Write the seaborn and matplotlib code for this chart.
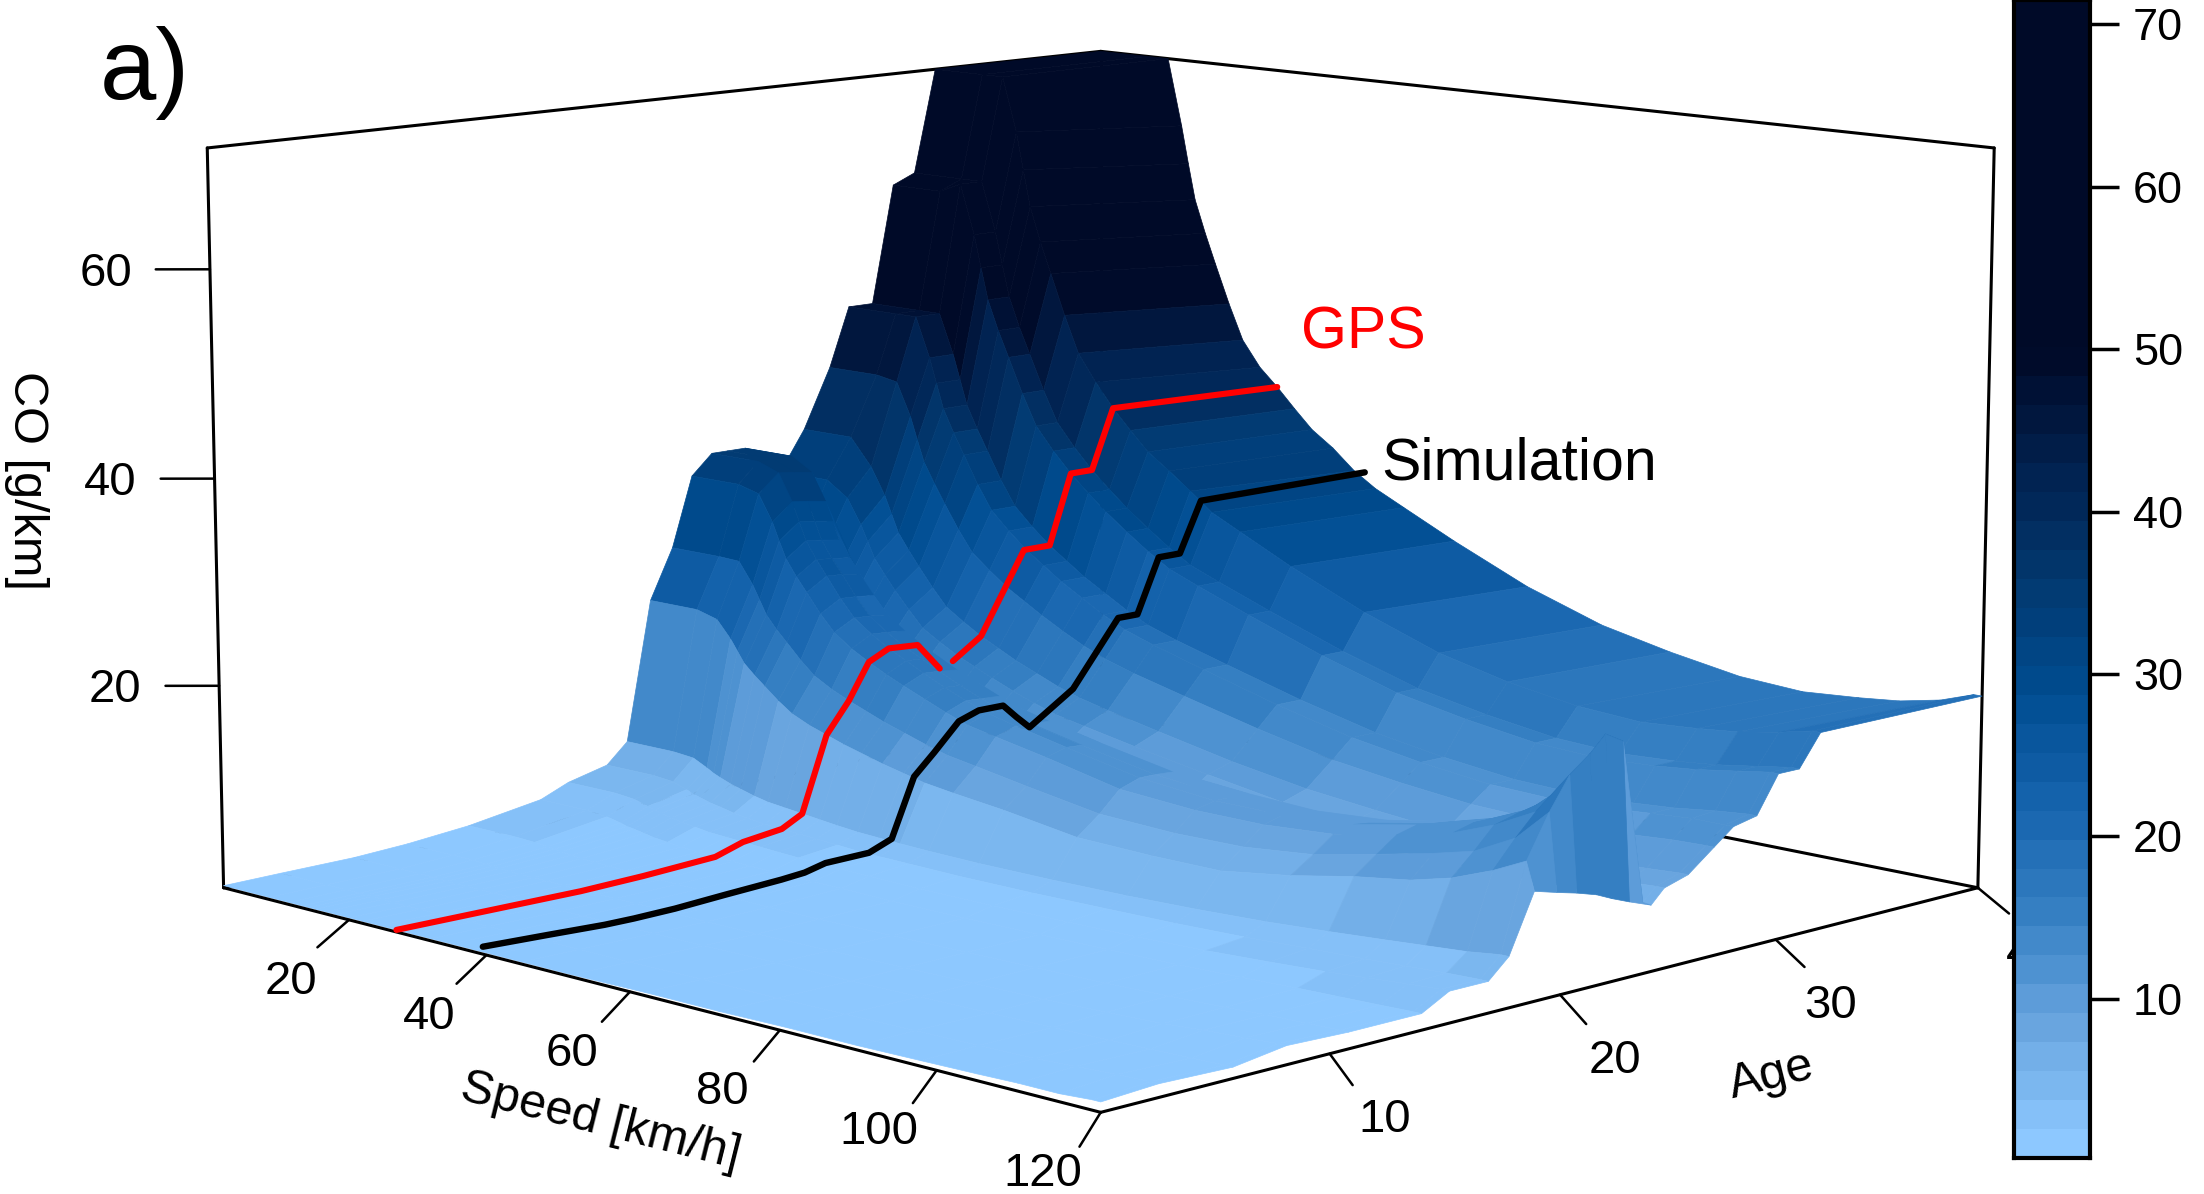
import numpy as np
import matplotlib
matplotlib.use("Agg")
import matplotlib.pyplot as plt
from matplotlib.transforms import offset_copy
import seaborn as sns

sns.set_theme(style="white")
plt.rcParams['font.family'] = ['Liberation Sans', 'DejaVu Sans']
plt.rcParams['text.color'] = 'black'

speeds = [1, 8, 11, 13, 14, 15, 16.5, 18, 20, 22, 24.5, 27, 29.5, 32, 35, 38, 41, 45, 52, 62, 72, 81, 90, 98, 105, 110, 115, 119, 120]
ages = [0.7, 3, 6, 8.2, 10.8, 13.9, 15.1, 16.8, 17.7, 18.8, 19.8, 20.7, 21.6, 22.3, 23.1, 24.1, 24.7, 25.8, 27, 27.9, 29, 30, 31, 32, 40]
co_grid = [
 [.5,.5,.5,.5,.5,.5,.5,.5,.5,.5,.5,.5,.5,.5,.5,.5,.5,.5,.5,.6,.6,.7,.7,.8,.9,1,1,1.2,1.2],
 [.6,.6,.6,.6,.6,.6,.55,.5,.5,.5,.5,.5,.5,.5,.5,.5,.5,.5,.5,.6,.6,.7,.8,.9,1,1.2,1.4,1.5,1.5],
 [.7,.7,.7,.7,.7,.6,.6,.6,.6,.6,.6,.55,.5,.5,.5,.5,.5,.5,.5,.6,.6,.7,.8,.9,1,1.1,1.2,1.3,1.3],
 [1,1,1,.9,.85,.8,.75,.7,.7,.7,.65,.6,.6,.6,.6,.6,.55,.5,.5,.6,.7,.8,.9,1.1,1.3,1.6,1.8,2,2],
 [1.6,1.6,1.5,1.4,1.3,1.2,1.1,1,.95,.9,.85,.8,.75,.7,.7,.7,.65,.6,.6,.7,.8,.9,1,1.2,1.4,1.6,1.7,1.8,1.8],
 [2.8,2.8,2.6,2.3,2.1,2,1.8,1.6,1.45,1.3,1.2,1.1,1.05,1,.95,.9,.9,.9,.8,.8,.9,1,1.1,1.3,1.5,1.6,1.7,1.8,1.8],
 [4,4,3.8,3.4,3.2,3,2.8,2.6,2.4,2.2,2.1,2,1.9,1.8,1.7,1.6,1.55,1.5,1.4,1.4,1.5,1.6,1.8,2.1,2.4,2.7,3,3.2,3.2],
 [5,5,4.8,4.3,4,3.8,3.5,3.3,3,2.8,2.6,2.5,2.4,2.3,2.15,2,1.95,1.9,1.8,1.8,1.9,2,2.2,2.5,2.7,2.9,3.1,3.2,3.2],
 [7,7,6.8,6.1,5.7,5.4,5,4.7,4.3,4,3.8,3.6,3.4,3.2,3,2.9,2.8,2.7,2.6,2.6,2.7,2.9,3.2,3.6,4,4.3,4.6,5,5],
 [21,21,20.4,18.7,17.6,16.5,15.5,14.6,13.4,12.4,11.6,11,10.4,9.9,9.3,8.8,8.3,7.9,7.3,6.2,6,6,7,8.2,9,10,11.5,13,10.4],
 [26,26,25.9,23.8,22.4,21,19.7,18.6,17.1,15.8,14.8,14,13.3,12.6,11.9,11.2,10.6,10.1,9.2,8,7.7,7.8,8.5,9.8,11,12,14,17,9.8],
 [33,33,32.4,29.8,28,26.3,24.7,23.3,21.4,19.8,18.5,17.5,16.6,15.8,14.9,14,13.2,12.6,11.6,10,9.5,9.5,10,11.2,12.5,14,16,20,9.3],
 [35,35,34.2,31.5,29.6,27.8,26.1,24.6,22.6,20.9,19.6,18.5,17.6,16.7,15.7,14.8,14,13.3,12.2,10.7,10,10,10.5,11.7,13,14.5,17,21.5,8.7],
 [35,35,34,31.3,29.4,27.6,25.9,24.5,22.5,20.8,19.5,18.4,17.5,16.6,15.6,14.7,13.9,13.2,12.1,10.7,10,9.8,10.3,11.5,13,14.7,18,23,8],
 [35,35,33.7,31,29.1,27.3,25.7,24.2,22.3,20.6,19.3,18.2,17.3,16.4,15.5,14.6,13.8,13.1,12,10.6,10,9.7,10.2,11.3,12.8,14.5,17.5,22,7.3],
 [29,29,27.8,25.5,24,22.5,21.2,20,18.4,17,15.9,15,14.2,13.5,12.7,12,11.4,10.8,9.9,8.7,7.7,7.1,6.6,6.5,6.5,6.6,6.6,6.6,6.5],
 [32,32,30.5,28,26.4,24.8,23.3,21.9,20.2,18.6,17.5,16.5,15.7,14.9,14,13.2,12.5,11.9,10.9,9.6,8.4,7.8,7.3,7.1,7.3,7.4,7.6,7.8,7.8],
 [36,36,33.3,30.6,28.8,27,25.4,23.9,22,20.3,19.1,18,17.1,16.2,15.3,14.4,13.7,13,11.9,10.4,9.2,8.5,7.9,7.7,7.9,8.1,8.3,8.5,8.5],
 [42,42,41.6,38.3,36,33.8,31.8,29.9,27.5,25.4,23.9,22.5,21.4,20.3,19.1,18,17.1,16.2,14.9,13.1,11.5,10.6,9.9,9.7,9.9,10.1,10.4,10.5,10.5],
 [48,48,48,44,41.5,39,36.7,34.6,31.8,29.4,27.6,26,24.7,23.4,22.1,20.8,19.7,18.7,17.2,15.1,13.3,12.2,11.4,11.2,11.4,11.7,12,12,12],
 [48,48,48,44,41.5,39,36.7,34.6,31.8,29.4,27.6,26,24.7,23.4,22.1,20.8,19.7,18.7,17.2,15.1,13.3,12.2,11.4,11.2,11.4,11.7,12.2,12.5,12.5],
 [60,60,61,56,52.7,49.5,46.5,43.9,40.4,37.3,35,33,31.3,29.7,28,26.4,25,23.8,21.8,19.1,16.8,15.5,14.5,14.2,14.5,14.9,15.5,16,16],
 [61,61,61,56,52.7,49.5,46.5,43.9,40.4,37.3,35,33,31.3,29.7,28,26.4,25,23.8,21.8,19.1,16.8,15.5,14.5,14.2,14.5,14.9,15.5,16,16],
 [71.5,71.5,71.5,66,62.2,58.5,55,51.9,47.8,44.1,41.4,39,37,35.1,33.5,31.8,30,28.5,25.9,22.6,19.9,18.3,17.2,16.8,17.2,17.6,18.3,19,19],
 [71.5,71.5,71.5,64.6,60.7,57,53.6,50.5,46.5,42.9,40.3,38.5,36.5,34.6,33,31,29.5,28,25.4,22,19.4,17.9,16.7,16.3,16.7,17.1,17.9,19,19],
]

gps_speed = 27
gps_age = [0.7, 5.5, 8.2, 10.8, 13.9, 15.1, 16.8, 17.7, 18.8, 19.8, 20.7, 21.6, 22.9, 23.9, np.nan, 24.5, 25.8, 27.8, 29, 30, 31, 32, 40]
gps_co = [.5, .5, .5, .7, 1.1, 2, 2.5, 3.6, 11, 14, 17.5, 18.5, 18.3, 15.5, np.nan, 16, 18, 26, 26, 33, 33, 39, 38.5]
sim_speed = 39.5
sim_age = [0.7, 3.3, 5.6, 6.8, 8.5, 10.6, 13, 14, 14.9, 16.8, 17.8, 18.8, 19.7, 20.8, 21.7, 22.8, 23.4, 24, 26, 28.1, 29, 30, 31, 32, 40]
sim_co = [1, .8, .6, .6, .7, 1, 1.3, 1.5, 2, 2.1, 3, 8.7, 10.7, 13.3, 14, 14, 12.6, 11.3, 14.3, 20.6, 20.6, 26, 26, 31, 31]

speed_ticks = [20, 40, 60, 80, 100, 120]
age_ticks = [10, 20, 30, 40]
co_ticks = [20, 40, 60]
bar_ticks = [10, 20, 30, 40, 50, 60, 70]
S_MIN, S_MAX, A_MIN, A_MAX, Z_MIN, Z_MAX = 1, 120, 0.7, 40, 0.3, 71.5

stops = ["#8DC8FF", "#6AA6E0", "#3680C3", "#1563AD", "#004C90", "#02386E", "#01204E",
         "#000A28", "#000A28", "#000A28", "#000A28"]
palette = sns.blend_palette(stops, n_colors=40)
cmap = matplotlib.colors.ListedColormap(palette)

W, H = 2204, 1194
fig = plt.figure(figsize=(W / 100, H / 100), dpi=100, facecolor="white")
size = 1867
ax = fig.add_axes([142 / W, -286 / H, size / W, size / H], projection="3d", computed_zorder=False)
ax.set_proj_type("persp", focal_length=0.7)
ax.set_box_aspect((1, 1, 0.6))
ax.view_init(elev=10, azim=-45)
ax.set_xlim(S_MIN, S_MAX, view_margin=0)
ax.set_ylim(A_MIN, A_MAX, view_margin=0)
ax.set_zlim(Z_MIN, Z_MAX, view_margin=0)
ax.set_axis_off()
ax.patch.set_alpha(0)

LW = 2.2
def seg(p, q, z=1, lw=LW):
    ax.plot([p[0], q[0]], [p[1], q[1]], [p[2], q[2]], color="black", lw=lw, zorder=z, clip_on=False,
            solid_capstyle="round")

def label(x, y, z, s, dx, dy, zo=4):
    ax.text(x, y, z, s, fontsize=FS, ha="center", va="center", zorder=zo, clip_on=False, color="black",
            transform=offset_copy(ax.transData, fig=fig, x=dx * 1.4056, y=-dy * 1.4056, units="dots"))

# box edges behind surface
seg((S_MIN, A_MAX, Z_MIN), (S_MAX, A_MAX, Z_MIN))
seg((S_MIN, A_MIN, Z_MIN), (S_MIN, A_MAX, Z_MIN))
seg((S_MIN, A_MAX, Z_MIN), (S_MIN, A_MAX, Z_MAX))
seg((S_MIN, A_MIN, Z_MIN), (S_MIN, A_MIN, Z_MAX))
seg((S_MAX, A_MAX, Z_MIN), (S_MAX, A_MAX, Z_MAX))
seg((S_MIN, A_MIN, Z_MAX), (S_MIN, A_MAX, Z_MAX))
seg((S_MIN, A_MAX, Z_MAX), (S_MAX, A_MAX, Z_MAX))

SS, AA = np.meshgrid(speeds, ages)
ZZ = np.array(co_grid)
surf = ax.plot_surface(SS, AA, ZZ, cmap=cmap, vmin=0.2, vmax=71.5, rstride=1, cstride=1,
                       shade=False, linewidth=0.5, antialiased=True, zorder=2)
surf.set_edgecolor("face")
surf.set_clip_on(False)

# front edges and ticks
seg((S_MIN, A_MIN, Z_MIN), (S_MAX, A_MIN, Z_MIN), z=3)
seg((S_MAX, A_MIN, Z_MIN), (S_MAX, A_MAX, Z_MIN), z=3)
FS = 34
for s in speed_ticks:
    seg((s, A_MIN, Z_MIN), (s + 6.6, A_MIN - 3, Z_MIN), z=3, lw=1.8)
    label(s, A_MIN, Z_MIN, str(s), -41, 44)
for a in age_ticks:
    seg((S_MAX, a, Z_MIN), (S_MAX + 8.8, a - 2.15, Z_MIN), z=3, lw=1.8)
    label(S_MAX, a, Z_MIN, str(a), 39, 47, zo=0)
for z in co_ticks:
    seg((S_MIN, A_MIN, z), (S_MIN - 3.6, A_MIN - 1.2, z), z=3, lw=1.8)
    label(S_MIN, A_MIN, z, str(z), -74, 3)

ax.plot([gps_speed] * len(gps_age), gps_age, gps_co, color="#FF0000", lw=4.4, zorder=5, clip_on=False)
ax.plot([sim_speed] * len(sim_age), sim_age, sim_co, color="black", lw=4.6, zorder=5, clip_on=False)

def px(x, y):
    return x * 1.4056 / W, 1 - y * 1.4056 / H

fig.text(*px(103, 52), "a)", fontsize=73, ha="center", va="center", color="black")
fig.text(*px(970, 237), "GPS", fontsize=42.5, ha="center", va="center", color="#FF0000")
fig.text(*px(1081, 330), "Simulation", fontsize=42.5, ha="center", va="center", color="black")
fig.text(*px(19, 342), "CO [g/km]", fontsize=35, rotation=270, ha="center", va="center", color="black")
fig.text(*px(427, 798), "Speed [km/h]", fontsize=35, rotation=-14, ha="center", va="center", color="black")
fig.text(*px(1260, 765), "Age", fontsize=35, rotation=14, ha="center", va="center", color="black")

# colour bar
cax = fig.add_axes([2014 / W, 1 - 1158 / H, 76 / W, 1158 / H], zorder=10)
levels = np.linspace(71.5, 0.2, 41)
mid = (levels[:-1] + levels[1:]) / 2
sns.heatmap(mid.reshape(-1, 1), ax=cax, cmap=cmap, vmin=0.2, vmax=71.5, cbar=False,
            xticklabels=False, yticklabels=False)
cax.set_facecolor("white")
for sp in cax.spines.values():
    sp.set_visible(True)
    sp.set_linewidth(3)
    sp.set_color("black")
cax.yaxis.tick_right()
cax.set_yticks([(71.5 - b) / (71.3) * 40 for b in bar_ticks])
cax.set_yticklabels([str(b) for b in bar_ticks], rotation=0, fontsize=32.5, color="black")
cax.tick_params(axis="y", right=True, left=False, length=21, width=2.5, pad=10, color="black")

fig.savefig("out.png", dpi=100, facecolor="white")
